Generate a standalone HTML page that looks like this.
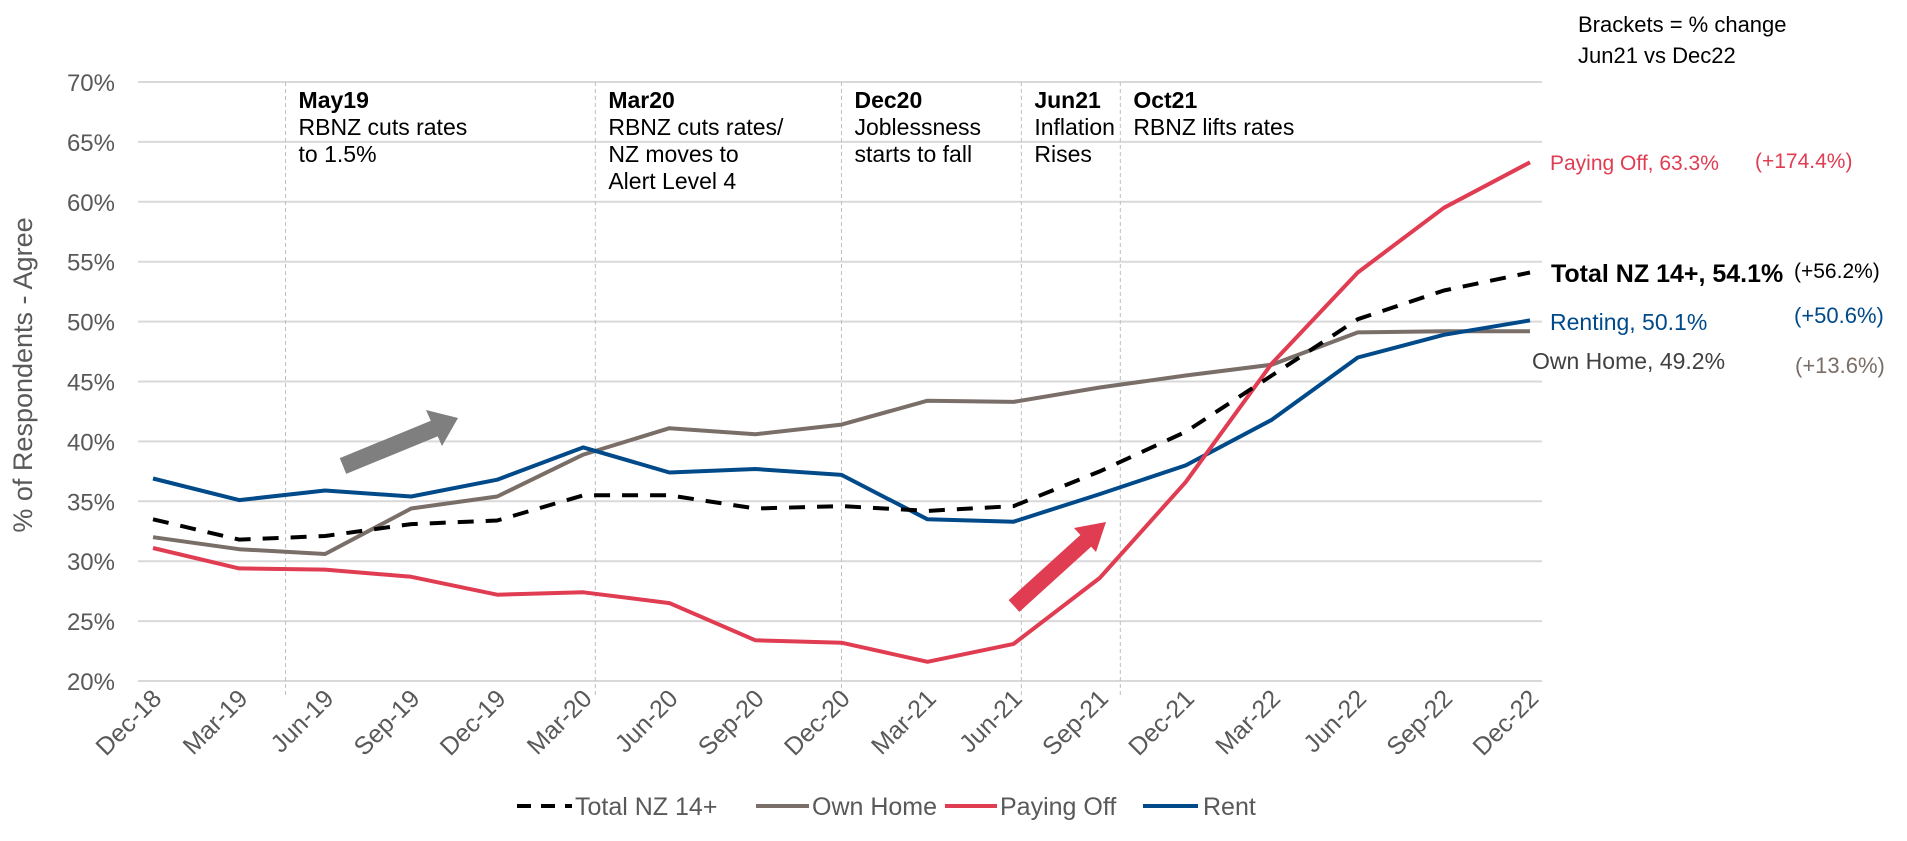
<!DOCTYPE html>
<html><head><meta charset="utf-8"><style>
body{margin:0;background:#fff;}
svg{display:block;font-family:"Liberation Sans",Arial,sans-serif;}
</style></head><body>
<svg id="chart" width="1907" height="841" viewBox="0 0 1907 841">
<g id="grid"></g><g id="annot"></g><g id="series"></g><g id="xlabels"></g>
<g>
<line x1="343" y1="466" x2="438" y2="427" stroke="#7f7f7f" stroke-width="17"/>
<polygon points="458,418 426,410 442,446" fill="#7f7f7f"/></g>
<g>
<line x1="1014" y1="606" x2="1090" y2="537" stroke="#e03c52" stroke-width="16"/>
<polygon points="1106,522 1074,528 1096,552" fill="#e03c52"/></g>
<text transform="translate(32,375) rotate(-90)" text-anchor="middle" font-size="27" fill="#595959">% of Respondents - Agree</text>
<g font-size="22"><text x="1578" y="32" fill="#000">Brackets = % change</text><text x="1578" y="63" fill="#000">Jun21 vs Dec22</text></g>
<g>
<text x="1550" y="170" fill="#e03c52" font-size="21">Paying Off, 63.3%</text>
<text x="1755" y="168" fill="#e03c52" font-size="21">(+174.4%)</text>
<text x="1551" y="282" fill="#000" font-weight="bold" font-size="25">Total NZ 14+, 54.1%</text>
<text x="1794" y="278" fill="#000" font-size="21">(+56.2%)</text>
<text x="1550" y="330" fill="#004a8a" font-size="23">Renting, 50.1%</text>
<text x="1794" y="323" fill="#004a8a" font-size="22">(+50.6%)</text>
<text x="1532" y="369" fill="#404040" font-size="23">Own Home, 49.2%</text>
<text x="1795" y="373" fill="#7a6e68" font-size="22">(+13.6%)</text>
</g>
<g id="legend" font-size="25" fill="#595959">
<g><line x1="517" y1="806" x2="572" y2="806" stroke="#000" stroke-width="4" stroke-dasharray="14,10"/><text x="575" y="815">Total NZ 14+</text></g>
<g><line x1="756" y1="806" x2="809" y2="806" stroke="#7a6e68" stroke-width="4"/><text x="812" y="815">Own Home</text></g>
<g><line x1="945" y1="806" x2="997" y2="806" stroke="#e03c52" stroke-width="4"/><text x="1000" y="815">Paying Off</text></g>
<g><line x1="1143" y1="806" x2="1198" y2="806" stroke="#004a8a" stroke-width="4"/><text x="1203" y="815">Rent</text></g>
</g>
</svg>
<script>
const categories=["Dec-18","Mar-19","Jun-19","Sep-19","Dec-19","Mar-20","Jun-20","Sep-20","Dec-20","Mar-21","Jun-21","Sep-21","Dec-21","Mar-22","Jun-22","Sep-22","Dec-22"];
const totalNZ=[33.5,31.8,32.1,33.1,33.4,35.5,35.5,34.4,34.6,34.2,34.6,37.5,40.8,45.5,50.2,52.6,54.1];
const ownHome=[32.0,31.0,30.6,34.4,35.4,38.9,41.1,40.6,41.4,43.4,43.3,44.5,45.5,46.4,49.1,49.2,49.2];
const payingOff=[31.1,29.4,29.3,28.7,27.2,27.4,26.5,23.4,23.2,21.6,23.1,28.6,36.6,46.5,54.1,59.5,63.3];
const rent=[36.9,35.1,35.9,35.4,36.8,39.5,37.4,37.7,37.2,33.5,33.3,35.6,38.0,41.8,47.0,48.9,50.1];
const yTicks=[20,25,30,35,40,45,50,55,60,65,70];
const eventPos=[1.54,5.14,8,10.09,11.24];
const eventTitles=["May19","Mar20","Dec20","Jun21","Oct21"];
const eventLines=[["RBNZ cuts rates","to 1.5%"],["RBNZ cuts rates/","NZ moves to","Alert Level 4"],["Joblessness","starts to fall"],["Inflation","Rises"],["RBNZ lifts rates"]];
const NS="http://www.w3.org/2000/svg";
const X=i=>153+i*86.06, Y=v=>681-(v-20)*11.98;
function mk(tag,attrs,parent,txt){const e=document.createElementNS(NS,tag);for(const k in attrs)e.setAttribute(k,attrs[k]);if(txt!==undefined)e.textContent=txt;document.getElementById(parent).appendChild(e);return e;}
yTicks.forEach(t=>{
 const l=mk('line',{x1:138,x2:1542,y1:Y(t),y2:Y(t),stroke:'#d9d9d9','stroke-width':2},'grid');
 
 
 const tx=mk('text',{x:115,y:Y(t)+9,'text-anchor':'end','font-size':24,fill:'#595959'},'grid',t+'%');
 
 
});
eventPos.forEach((p,i)=>{
 const l=mk('line',{x1:X(p),x2:X(p),y1:82,y2:698,stroke:'#bfbfbf','stroke-width':1,'stroke-dasharray':'4,3'},'annot');
 
 
 const t=mk('text',{x:X(p)+13,y:108,'font-size':23,'font-weight':'bold',fill:'#000'},'annot',eventTitles[i]);
 
 
 eventLines[i].forEach((s,j)=>{
  const d=mk('text',{x:X(p)+13,y:135+j*27,'font-size':23,fill:'#000'},'annot',s);
  
  
 });
});
categories.forEach((c,i)=>{
 const t=mk('text',{transform:`translate(${X(i)+10},${700}) rotate(-45)`,'text-anchor':'end','font-size':25,fill:'#595959'},'xlabels',c);
 
 
});
function line(vals,color,name,dash){
 const d=vals.map((v,i)=>(i?'L':'M')+X(i).toFixed(1)+','+Y(v).toFixed(1)).join(' ');
 const p=mk('path',{d:d,fill:'none',stroke:color,'stroke-width':4,'stroke-linejoin':'round'},'series');
 if(dash)p.setAttribute('stroke-dasharray','16,12');
 
 
}
line(ownHome,'#7a6e68','series-own-home');
line(rent,'#004a8a','series-rent');
line(payingOff,'#e03c52','series-paying-off');
line(totalNZ,'#000','series-total-nz',true);
</script>
</body></html>
